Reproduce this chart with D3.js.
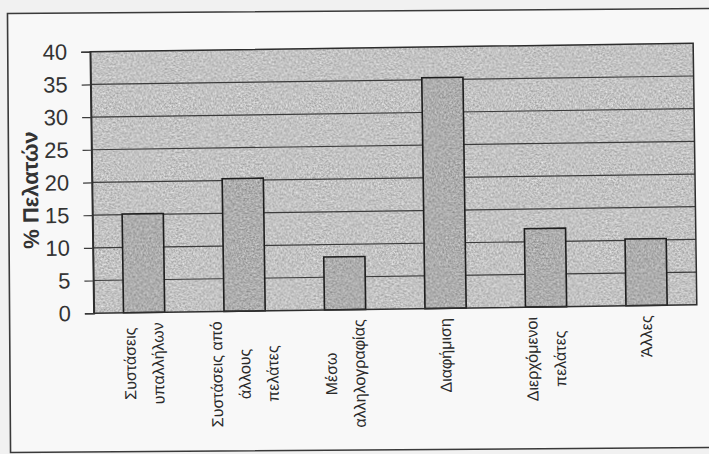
<!DOCTYPE html>
<html>
<head>
<meta charset="utf-8">
<script src="https://cdn.jsdelivr.net/npm/d3@7/dist/d3.min.js"></script>
<style>
  html, body { margin: 0; padding: 0; background: #f1f1f1; }
  svg { display: block; }
</style>
</head>
<body>
<svg id="chart" width="709" height="454"></svg>
<script>
// ---- data ----
const categories = [
  ["Συστάσεις", "υπαλλήλων"],
  ["Συστάσεις από", "άλλους", "πελάτες"],
  ["Μέσω", "αλληλογραφίας"],
  ["Διαφήμιση"],
  ["Διερχόμενοι", "πελάτες"],
  ["Άλλες"]
];
const values = [15.1, 20.3, 8.1, 35.3, 12, 10.2];
const yTicks = [0, 5, 10, 15, 20, 25, 30, 35, 40];
const yTitle = "% Πελατών";

// ---- layout ----
const plot = { left: 92, right: 695, top: 47.5, bottom: 309 };
const svg = d3.select("#chart");

const defs = svg.append("defs");
const f = defs.append("filter").attr("id", "grain")
  .attr("x", 0).attr("y", 0).attr("width", "100%").attr("height", "100%")
  .attr("color-interpolation-filters", "sRGB");
f.append("feTurbulence").attr("type", "fractalNoise").attr("baseFrequency", 0.55)
  .attr("numOctaves", 3).attr("seed", 7).attr("result", "t");
f.append("feColorMatrix").attr("in", "t").attr("type", "matrix")
  .attr("values", "1 0 0 0 0  1 0 0 0 0  1 0 0 0 0  0 0 0 0 1")
  .attr("result", "g");
f.append("feComposite").attr("in", "SourceGraphic").attr("in2", "g")
  .attr("operator", "arithmetic").attr("k1", 0).attr("k2", 1).attr("k3", 0.45).attr("k4", -0.225)
  .attr("result", "c");
f.append("feComposite").attr("in", "c").attr("in2", "SourceGraphic").attr("operator", "in");

// outer frame
svg.append("rect")
  .attr("x", 9).attr("y", 11).attr("width", 730).attr("height", 439)
  .attr("fill", "#f8f8f8").attr("stroke", "#3a3a3a").attr("stroke-width", 1.6)
  .attr("transform", "rotate(-0.4 360 230)");

const g = svg.append("g").attr("transform", "rotate(-0.8 393 178)");

const x = d3.scaleBand().domain(d3.range(categories.length))
  .range([plot.left, plot.right]).paddingInner(0.59).paddingOuter(0.295);
const y = d3.scaleLinear().domain([0, 40]).range([plot.bottom, plot.top]);

// plot background
g.append("rect")
  .attr("x", plot.left).attr("y", plot.top)
  .attr("width", plot.right - plot.left).attr("height", plot.bottom - plot.top)
  .attr("fill", "#c3c3c3").attr("filter", "url(#grain)");

// gridlines
g.append("g").selectAll("line").data(yTicks.filter(d => d > 0 && d < 40)).join("line")
  .attr("x1", plot.left).attr("x2", plot.right)
  .attr("y1", d => y(d)).attr("y2", d => y(d))
  .attr("stroke", "#3c3c3c").attr("stroke-width", 1.2);

// bars
g.append("g").selectAll("rect").data(values).join("rect")
  .attr("x", (d, i) => x(i)).attr("width", x.bandwidth())
  .attr("y", d => y(d)).attr("height", d => y(0) - y(d))
  .attr("fill", "#adadad").attr("filter", "url(#grain)");
g.append("g").selectAll("rect").data(values).join("rect")
  .attr("x", (d, i) => x(i)).attr("width", x.bandwidth())
  .attr("y", d => y(d)).attr("height", d => y(0) - y(d))
  .attr("fill", "none").attr("stroke", "#1e1e1e").attr("stroke-width", 1.6);

// plot border
g.append("rect")
  .attr("x", plot.left).attr("y", plot.top)
  .attr("width", plot.right - plot.left).attr("height", plot.bottom - plot.top)
  .attr("fill", "none").attr("stroke", "#2e2e2e").attr("stroke-width", 1.5);

// y axis
const yAxis = d3.axisLeft(y).tickValues(yTicks).tickSize(9).tickPadding(14);
const ya = g.append("g").attr("transform", `translate(${plot.left},0)`).call(yAxis);
ya.select(".domain").attr("stroke", "#2e2e2e").attr("stroke-width", 1.5);
ya.selectAll(".tick line").attr("stroke", "#3c3c3c").attr("stroke-width", 1.2);
ya.selectAll(".tick text")
  .attr("font-family", "'Liberation Sans', Arial, sans-serif")
  .attr("font-size", 22).attr("fill", "#333");

// y title
g.append("text")
  .attr("transform", "translate(38,185) rotate(-90)")
  .attr("text-anchor", "middle")
  .attr("font-family", "'Liberation Sans', Arial, sans-serif")
  .attr("font-weight", "bold").attr("font-size", 22).attr("fill", "#333")
  .text(yTitle);

// category labels (rotated -90, reading bottom to top, lines centred, block top-aligned)
const lineGap = 28;
const labelTop = plot.bottom + 10;
categories.forEach((lines, i) => {
  const cx = x(i) + x.bandwidth() / 2;
  const grp = g.append("g");
  const texts = lines.map((ln, j) => grp.append("text")
    .attr("text-anchor", "middle")
    .attr("font-family", "'Liberation Sans', Arial, sans-serif")
    .attr("font-size", 16).attr("fill", "#2a2a2a")
    .text(ln));
  const maxLen = d3.max(texts, t => t.node().getComputedTextLength());
  const cy = labelTop + maxLen / 2;
  texts.forEach((t, j) => {
    const lx = cx + (j - (lines.length - 1) / 2) * lineGap + 5;
    t.attr("transform", `translate(${lx},${cy}) rotate(-90)`);
  });
});
</script>
</body>
</html>
